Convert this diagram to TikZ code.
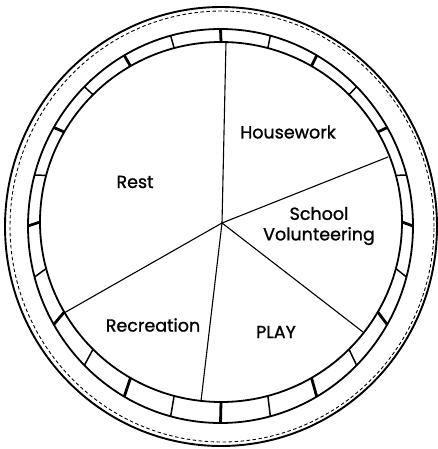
\documentclass[tikz,border=0pt]{standalone}
\usepackage{fontspec}
\setmainfont{Poppins}
\newfontfamily\lblfont{Poppins}[FakeBold=1.2]
\begin{document}
\begin{tikzpicture}[x=1pt,y=-1pt,
  rim/.style={line width=1.9pt},
  dashrim/.style={line width=0.9pt, dash pattern=on 3.5pt off 2.5pt},
  band/.style={line width=1.8pt},
  spoke/.style={line width=1.1pt},
  lbl/.style={font=\lblfont\fontsize{17.5}{20.5}\selectfont, align=center, inner sep=0pt}]
\useasboundingbox (0,0) rectangle (438,449);
% outer rim
\draw[rim] (221,226.5) ellipse [x radius=216pt, y radius=219.5pt];
\draw[dashrim] (222,226.5) ellipse [x radius=212pt, y radius=215.5pt];
% tick band
\draw[band] (220.5,226) ellipse [x radius=192.5pt, y radius=197pt];
\draw[band] (221,222) ellipse [x radius=181pt, y radius=180pt];
\foreach \a in {0,15,...,345}{
  \pgfmathtruncatemacro\th{mod(\a,30)}
  \ifnum\th=0 \def\tw{2.8pt}\else\def\tw{1.5pt}\fi
  \draw[line width=\tw] ({221+181*cos(\a)},{222-180*sin(\a)}) -- ({220.5+192.5*cos(\a)},{226-197*sin(\a)});
}
% spokes
\coordinate (c) at (222,223);
\coordinate (p1) at (226,42);
\coordinate (p2) at (388,157);
\coordinate (p3) at (363,332);
\coordinate (p4) at (201,401);
\coordinate (p5) at (64,313);
\foreach \p in {p1,p2,p3,p4,p5} \draw[spoke] (c) -- (\p);
% labels
\node[lbl] (rest) at (135,182) {Rest};
\node[lbl] (house) at (288,132) {Housework};
\node[lbl] (school) at (319,226) {School\\Volunteering};
\node[lbl] (rec) at (153,325) {Recreation};
\node[lbl] (play) at (276,332) {PLAY};
\end{tikzpicture}
\end{document}
